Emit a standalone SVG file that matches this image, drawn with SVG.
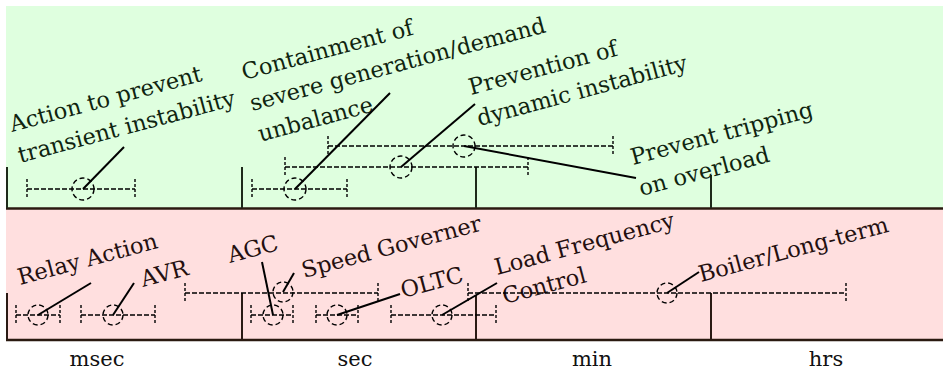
<svg xmlns="http://www.w3.org/2000/svg" width="943" height="375" viewBox="0 0 943 375">
<style>
.lbl{font-family:"DejaVu Serif","Liberation Serif",serif;font-size:22.5px;}
.g{fill:#0f240f;}
.p{fill:#240f0f;}
.axis{font-family:"DejaVu Serif","Liberation Serif",serif;font-size:21px;fill:#111;text-anchor:middle;}
.bar{stroke:#000;stroke-width:1.4;stroke-dasharray:5,2;fill:none;}
.end{stroke:#000;stroke-width:1.4;stroke-dasharray:3,2;fill:none;}
.dot{stroke:#000;stroke-width:1.4;stroke-dasharray:5,3;fill:none;}
.lead{stroke:#000;stroke-width:2;fill:none;}
.sep{stroke:#1e2a1a;stroke-width:2;}
.psep{stroke:#2a1a14;stroke-width:2;}
</style>
<g id="bands">
<rect x="6" y="6" width="937" height="202" fill="#dfffdf"/>
<rect x="6" y="209" width="937" height="131" fill="#ffdfdf"/>
<line x1="6" y1="208.5" x2="943" y2="208.5" stroke="#2a1a10" stroke-width="2.5"/>
<line x1="6" y1="340" x2="943" y2="340" stroke="#2a1a10" stroke-width="2.5"/>
<line class="sep" x1="7" y1="167" x2="7" y2="208"/>
<line class="sep" x1="242" y1="167" x2="242" y2="208"/>
<line class="sep" x1="476" y1="167" x2="476" y2="208"/>
<line class="sep" x1="711" y1="175" x2="711" y2="208"/>
<line class="psep" x1="7" y1="293" x2="7" y2="340"/>
<line class="psep" x1="242" y1="293" x2="242" y2="340"/>
<line class="psep" x1="476" y1="295" x2="476" y2="340"/>
<line class="psep" x1="711" y1="293" x2="711" y2="340"/>
</g>
<g id="axis-labels">
<text class="axis" x="97" y="366">msec</text>
<text class="axis" x="355" y="366">sec</text>
<text class="axis" x="592" y="366">min</text>
<text class="axis" x="826" y="366">hrs</text>
</g>
<g id="transient">
<path class="bar" d="M27 189H135"/>
<path class="end" d="M27 179V199M135 179V199"/>
<circle class="dot" cx="83" cy="189" r="11"/>
<text class="lbl g" transform="translate(12,132) rotate(-15)"><tspan x="0" y="0">Action to prevent</tspan><tspan x="0" y="32">transient instability</tspan></text>
</g>
<g id="containment">
<path class="bar" d="M252 189H347"/>
<path class="end" d="M252 179V199M347 179V199"/>
<circle class="dot" cx="295" cy="189" r="11"/>
<text class="lbl g" transform="translate(244,80) rotate(-15)"><tspan x="0" y="0">Containment of</tspan><tspan x="0" y="32">severe generation/demand</tspan><tspan x="0" y="64">unbalance</tspan></text>
</g>
<g id="dynamic">
<path class="bar" d="M285 167H528"/>
<path class="end" d="M285 157V177M528 157V177"/>
<circle class="dot" cx="401" cy="167" r="11"/>
<text class="lbl g" transform="translate(471,95) rotate(-15)"><tspan x="0" y="0">Prevention of</tspan><tspan x="0" y="32">dynamic instability</tspan></text>
</g>
<g id="overload">
<path class="bar" d="M328 146H613"/>
<path class="end" d="M328 136V156M613 136V156"/>
<circle class="dot" cx="464" cy="146" r="11"/>
<text class="lbl g" transform="translate(633,165) rotate(-15)"><tspan x="0" y="0">Prevent tripping</tspan><tspan x="0" y="32">on overload</tspan></text>
</g>
<g id="relay">
<path class="bar" d="M16 315H60"/>
<path class="end" d="M16 305V325M60 305V325"/>
<circle class="dot" cx="38" cy="315" r="10"/>
<text class="lbl p" transform="translate(20,285) rotate(-15)">Relay Action</text>
</g>
<g id="avr">
<path class="bar" d="M81 315H155"/>
<path class="end" d="M81 305V325M155 305V325"/>
<circle class="dot" cx="113" cy="315" r="10"/>
<text class="lbl p" transform="translate(143,287) rotate(-15)">AVR</text>
</g>
<g id="agc">
<path class="bar" d="M251 315H293"/>
<path class="end" d="M251 305V325M293 305V325"/>
<circle class="dot" cx="273" cy="315" r="10"/>
<text class="lbl p" transform="translate(230,263) rotate(-15)">AGC</text>
</g>
<g id="governer">
<path class="bar" d="M185 293H378"/>
<path class="end" d="M185 283V303M378 283V303"/>
<circle class="dot" cx="283" cy="292" r="10"/>
<text class="lbl p" transform="translate(304,278) rotate(-15)">Speed Governer</text>
</g>
<g id="oltc">
<path class="bar" d="M316 315H358"/>
<path class="end" d="M316 305V325M358 305V325"/>
<circle class="dot" cx="337" cy="315" r="10"/>
<text class="lbl p" transform="translate(403,298) rotate(-15)">OLTC</text>
</g>
<g id="lfc">
<path class="bar" d="M391 315H496"/>
<path class="end" d="M391 305V325M496 305V325"/>
<circle class="dot" cx="442" cy="315" r="10"/>
<text class="lbl p" transform="translate(497,275) rotate(-15)"><tspan x="0" y="0">Load Frequency</tspan><tspan x="0" y="30">Control</tspan></text>
</g>
<g id="boiler">
<path class="bar" d="M468 293H846"/>
<path class="end" d="M468 283V303M846 283V303"/>
<circle class="dot" cx="667" cy="293" r="10"/>
<text class="lbl p" transform="translate(701,282) rotate(-15)">Boiler/Long-term</text>
</g>
<g id="connectors">
<line class="lead" x1="83" y1="189" x2="124" y2="147"/>
<line class="lead" x1="295" y1="189" x2="390" y2="93"/>
<line class="lead" x1="401" y1="167" x2="475" y2="104"/>
<line class="lead" x1="464" y1="146" x2="636" y2="178"/>
<line class="lead" x1="38" y1="315" x2="91" y2="283"/>
<line class="lead" x1="113" y1="315" x2="134" y2="283"/>
<line class="lead" x1="273" y1="315" x2="262" y2="262"/>
<line class="lead" x1="283" y1="292" x2="294" y2="273"/>
<line class="lead" x1="337" y1="315" x2="400" y2="294"/>
<line class="lead" x1="442" y1="315" x2="497" y2="283"/>
<line class="lead" x1="667" y1="293" x2="699" y2="272"/>
</g>
</svg>
